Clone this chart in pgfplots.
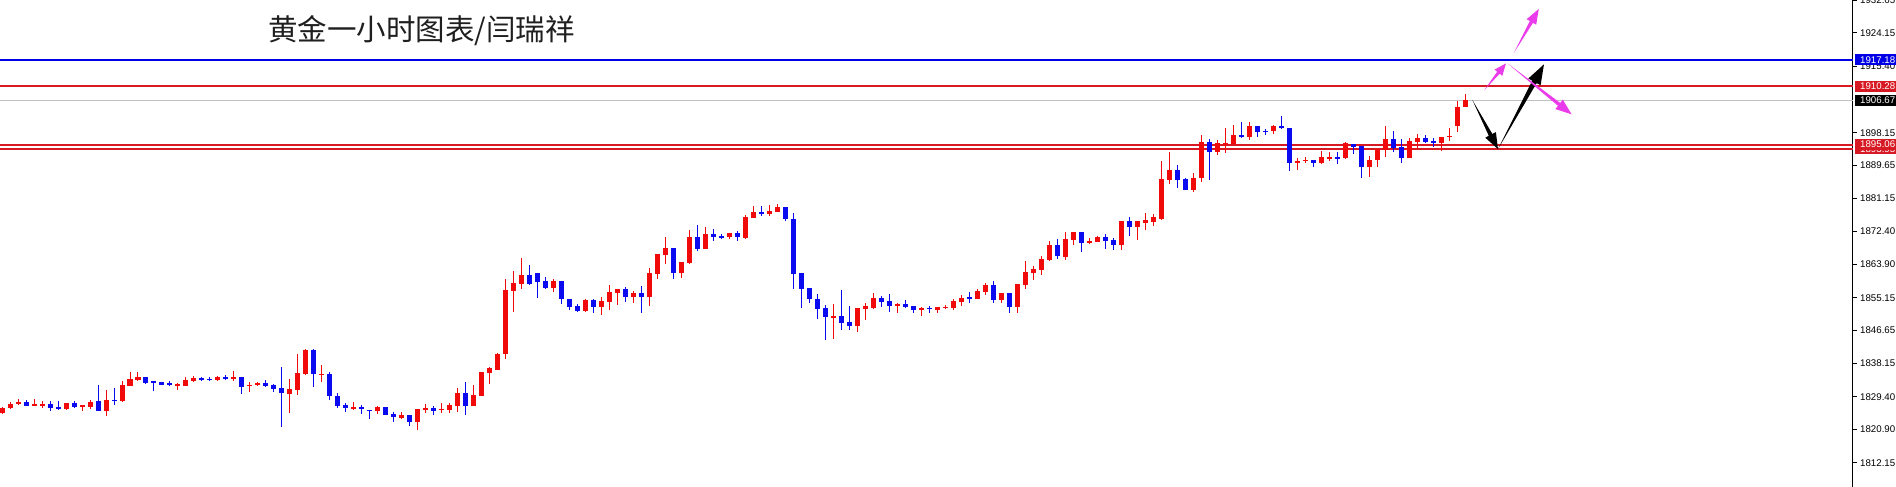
\documentclass[border=0pt]{standalone}
\usepackage{fontspec}
\setmainfont{Liberation Sans}
\newfontfamily\cjk{Noto Sans CJK SC}
\usepackage{pgfplots}
\usepackage{pgfplotstable}
\pgfplotsset{compat=1.18}
\usetikzlibrary{calc}
\definecolor{cred}{RGB}{240,10,10}
\definecolor{cblue}{RGB}{10,10,240}
\definecolor{lred}{RGB}{215,25,35}
\definecolor{lblue}{RGB}{0,0,230}
\definecolor{lgray}{RGB}{192,192,192}
\definecolor{cmag}{RGB}{235,60,235}

\pgfplotstableread{
i o h l c
0 1825.3 1826.8 1824.9 1826.6
1 1826.5 1828.1 1826.2 1827.5
2 1827.4 1828.7 1827.2 1828.1
3 1828.0 1828.5 1826.9 1827.1
4 1827.2 1828.9 1827.1 1827.4
5 1827.3 1828.2 1826.4 1827.4
6 1827.5 1828.2 1825.6 1826.6
7 1826.7 1828.2 1826.0 1826.2
8 1826.2 1827.8 1826.0 1827.7
9 1827.8 1828.2 1826.6 1826.8
10 1826.9 1827.1 1825.6 1827.1
11 1826.8 1828.5 1826.1 1828.0
12 1828.3 1832.5 1825.8 1825.8
13 1825.8 1831.2 1824.5 1828.6
14 1828.6 1831.6 1827.2 1828.4
15 1828.3 1833.5 1828.1 1832.5
16 1832.3 1835.8 1832.3 1834.0
17 1833.8 1835.8 1833.4 1834.6
18 1834.5 1834.5 1832.8 1833.0
19 1833.3 1833.3 1831.0 1833.2
20 1833.2 1833.3 1832.4 1832.5
21 1833.1 1833.4 1832.3 1832.4
22 1832.5 1832.9 1831.2 1832.6
23 1832.3 1834.5 1832.1 1833.8
24 1833.5 1834.7 1833.2 1834.3
25 1834.3 1834.5 1833.5 1833.8
26 1834.0 1834.5 1833.6 1833.8
27 1833.8 1834.7 1833.4 1834.6
28 1834.6 1835.2 1833.8 1834.0
29 1834.0 1836.0 1833.6 1834.6
30 1834.5 1834.5 1830.2 1832.0
31 1832.3 1833.3 1830.7 1832.6
32 1832.4 1833.3 1832.1 1833.1
33 1833.1 1833.8 1832.0 1832.3
34 1832.5 1832.8 1830.6 1831.5
35 1831.6 1837.2 1821.6 1830.3
36 1830.2 1834.0 1825.3 1831.3
37 1831.2 1840.5 1829.9 1835.5
38 1835.3 1841.8 1835.2 1841.6
39 1841.6 1841.8 1832.0 1835.2
40 1835.2 1837.7 1833.2 1835.3
41 1835.3 1835.8 1828.6 1829.7
42 1829.5 1830.3 1826.6 1827.1
43 1827.2 1827.7 1825.5 1826.6
44 1826.2 1828.0 1826.0 1826.7
45 1826.8 1827.2 1824.8 1826.1
46 1826.0 1826.0 1823.7 1825.7
47 1825.6 1826.9 1824.8 1826.7
48 1826.7 1826.7 1824.7 1824.7
49 1824.9 1825.3 1822.9 1824.0
50 1824.0 1825.4 1823.7 1824.7
51 1824.6 1824.6 1821.9 1822.9
52 1822.9 1826.2 1820.7 1826.2
53 1826.0 1827.4 1825.1 1826.6
54 1826.6 1827.1 1824.7 1825.8
55 1825.9 1827.7 1825.1 1826.3
56 1826.0 1827.7 1825.1 1827.2
57 1827.1 1831.6 1825.5 1830.4
58 1830.4 1833.2 1824.7 1827.1
59 1827.1 1832.5 1827.1 1829.9
60 1829.7 1835.8 1829.7 1835.8
61 1835.7 1837.2 1832.6 1837.0
62 1836.5 1840.7 1836.5 1840.5
63 1840.45 1860.1 1839.2 1857.2
64 1857.0 1862.2 1851.6 1859.0
65 1858.9 1865.5 1857.4 1861.1
66 1861.1 1863.7 1858.6 1858.8
67 1861.6 1861.6 1855.2 1859.4
68 1859.6 1860.5 1857.5 1857.7
69 1857.7 1860.2 1856.8 1859.6
70 1859.6 1859.6 1853.6 1854.8
71 1854.9 1854.9 1852.1 1852.9
72 1853.1 1853.6 1851.4 1851.8
73 1851.7 1854.9 1851.4 1854.6
74 1854.7 1854.9 1851.3 1852.9
75 1852.9 1855.4 1850.8 1854.3
76 1854.1 1858.5 1852.0 1856.7
77 1856.4 1857.5 1853.4 1857.5
78 1857.5 1857.9 1854.2 1855.5
79 1855.5 1856.9 1853.9 1856.5
80 1856.4 1858.3 1851.3 1855.5
81 1855.5 1862.9 1853.1 1861.6
82 1861.4 1866.6 1860.0 1866.6
83 1866.4 1871.0 1864.1 1868.1
84 1868.1 1868.1 1860.2 1861.7
85 1861.7 1864.5 1860.4 1864.5
86 1864.3 1872.8 1863.9 1871.0
87 1871.0 1874.2 1867.4 1867.9
88 1867.9 1873.5 1867.9 1871.8
89 1871.9 1873.1 1869.9 1871.1
90 1871.3 1871.9 1870.5 1870.9
91 1870.9 1872.0 1870.6 1872.0
92 1872.1 1872.5 1870.0 1870.9
93 1870.7 1876.7 1870.5 1876.2
94 1876.0 1879.1 1876.0 1877.6
95 1877.5 1879.1 1876.6 1877.0
96 1877.0 1879.3 1876.6 1877.8
97 1877.6 1879.7 1877.6 1878.8
98 1878.8 1878.8 1875.1 1875.6
99 1875.7 1877.2 1857.4 1861.5
100 1861.6 1861.6 1852.4 1857.6
101 1857.7 1857.7 1853.9 1854.8
102 1854.9 1856.2 1849.7 1852.3
103 1852.5 1853.2 1844.3 1850.1
104 1850.1 1853.6 1844.5 1850.4
105 1850.4 1857.2 1846.8 1848.7
106 1848.9 1853.0 1846.8 1847.7
107 1847.7 1852.5 1846.4 1852.5
108 1852.3 1853.8 1849.5 1853.1
109 1852.5 1856.3 1852.3 1855.1
110 1855.1 1855.6 1852.7 1854.2
111 1854.3 1856.2 1851.6 1853.0
112 1853.1 1853.9 1851.3 1853.6
113 1853.6 1854.6 1852.5 1852.8
114 1853.0 1853.0 1851.3 1851.9
115 1851.9 1852.9 1850.3 1852.6
116 1852.6 1853.1 1851.3 1852.2
117 1852.1 1852.9 1851.3 1852.8
118 1852.6 1853.2 1852.3 1852.9
119 1852.5 1854.9 1852.1 1854.4
120 1854.2 1855.9 1853.1 1855.2
121 1855.3 1856.7 1853.9 1855.0
122 1854.9 1857.4 1854.9 1857.0
123 1856.8 1859.0 1856.0 1858.6
124 1858.5 1859.6 1853.7 1854.6
125 1854.6 1856.3 1853.9 1856.3
126 1856.3 1856.3 1851.3 1852.8
127 1852.8 1858.9 1851.3 1858.8
128 1858.6 1864.8 1857.6 1861.9
129 1861.7 1863.5 1859.9 1862.8
130 1862.4 1866.0 1861.2 1865.3
131 1864.9 1870.0 1864.8 1868.9
132 1868.9 1870.5 1865.3 1866.1
133 1865.9 1872.3 1865.0 1870.5
134 1870.2 1872.4 1868.8 1872.4
135 1872.4 1872.4 1867.2 1869.4
136 1869.4 1870.7 1869.2 1870.1
137 1869.8 1871.4 1869.7 1871.0
138 1871.0 1871.8 1867.9 1870.0
139 1870.2 1870.7 1867.6 1868.8
140 1868.8 1875.2 1867.7 1875.2
141 1875.2 1876.2 1871.3 1873.7
142 1873.7 1875.2 1870.3 1875.2
143 1874.7 1877.3 1872.7 1875.3
144 1875.0 1876.9 1873.8 1876.3
145 1875.7 1890.8 1875.4 1886.1
146 1885.9 1893.1 1884.7 1888.5
147 1888.5 1889.8 1883.9 1885.9
148 1886.1 1886.3 1883.3 1883.3
149 1883.3 1887.6 1882.6 1886.5
150 1886.5 1897.6 1885.4 1895.8
151 1895.8 1896.5 1885.9 1893.2
152 1893.2 1896.3 1892.3 1895.4
153 1895.2 1899.3 1893.0 1895.4
154 1895.2 1900.2 1895.2 1897.6
155 1897.6 1900.9 1896.9 1897.0
156 1897.0 1900.9 1896.4 1899.9
157 1899.9 1899.9 1897.1 1898.4
158 1898.7 1899.1 1897.6 1898.3
159 1898.7 1900.2 1897.9 1899.9
160 1899.9 1902.5 1899.1 1899.3
161 1899.5 1899.5 1888.3 1890.2
162 1890.2 1891.5 1888.5 1890.9
163 1890.8 1891.9 1890.4 1891.1
164 1891.1 1891.1 1889.3 1890.2
165 1890.2 1893.4 1889.9 1891.9
166 1891.5 1893.1 1890.9 1891.9
167 1891.9 1893.1 1890.0 1891.5
168 1891.5 1895.8 1891.3 1895.4
169 1895.1 1895.1 1892.5 1894.5
170 1894.8 1894.8 1886.5 1889.3
171 1889.3 1892.1 1886.5 1891.1
172 1891.0 1893.8 1889.1 1893.8
173 1893.7 1899.9 1891.9 1896.4
174 1896.4 1898.6 1893.2 1894.1
175 1894.4 1896.4 1890.2 1891.7
176 1891.5 1896.7 1891.5 1896.1
177 1895.8 1897.8 1894.3 1896.7
178 1896.7 1897.7 1895.6 1895.8
179 1896.0 1896.7 1894.5 1895.6
180 1895.4 1897.0 1893.5 1897.0
181 1897.0 1899.5 1896.1 1897.4
182 1899.9 1906.3 1898.4 1904.8
183 1904.8 1908.2 1904.8 1906.67
}\candles

% fat arrow: start, tip, colour, head length, head half width, shaft half width
\newcommand{\fatarrow}[6]{%
  \fill[#3] (#1) -- ($(#2)!#4!(#1)!#6!90:(#2)$) -- ($(#2)!#4!(#1)!#5!90:(#2)$) -- (#2)
   -- ($(#2)!#4!(#1)!#5!-90:(#2)$) -- ($(#2)!#4!(#1)!#6!-90:(#2)$) -- cycle;}
\newcommand{\pricebox}[3]{%
  \fill[#2] ([xshift=2pt,yshift=-5.5pt]#1) rectangle ([xshift=60pt,yshift=5.5pt]#1);
  \node[anchor=west, inner sep=0pt, text=white, font=\fontsize{9.7}{10}\selectfont] at ([xshift=7pt]#1) {#3};}

\pgfplotsset{
  candle/.style n args={3}{draw=none, fill=none, mark=none, forget plot,
    restrict expr to domain={\thisrow{c}-\thisrow{o}}{#2},
    error bars/.cd, y dir=both, y explicit, error mark=none,
    error bar style={draw=#1, line width=#3}},
}

\begin{document}
\begin{tikzpicture}
\begin{axis}[
  scale only axis, width=1853pt, height=487pt,
  xmin=-0.25, xmax=231.375, ymin=1805.90, ymax=1932.72,
  axis x line=none, axis y line*=right,
  y axis line style={-, black, line width=1pt},
  ytick={1812.15,1820.90,1829.40,1838.15,1846.65,1855.15,1863.90,1872.40,1881.15,1889.65,1898.15,1915.40,1924.15,1932.65},
  yticklabels={1812.15,1820.90,1829.40,1838.15,1846.65,1855.15,1863.90,1872.40,1881.15,1889.65,1898.15,1915.40,1924.15,1932.65},
  /pgf/number format/assume math mode=true,
  tick align=outside, major tick length=4pt,
  ytick style={black, line width=1pt},
  yticklabel style={font=\fontsize{9.7}{10}\selectfont, anchor=west, inner sep=0pt, xshift=3pt},
  clip=true,
]
\addplot[lgray, line width=1pt] coordinates {(-1,1906.67) (232,1906.67)};
\addplot[lred, line width=2pt] coordinates {(-1,1910.28) (232,1910.28)};
\addplot[lred, line width=2pt] coordinates {(-1,1895.06) (232,1895.06)};
\addplot[lred, line width=2pt] coordinates {(-1,1893.95) (232,1893.95)};
\addplot[lblue, line width=2pt] coordinates {(-1,1917.18) (232,1917.18)};

% red (rising) candles: wicks then bodies
\addplot[candle={cred}{0:1000}{1pt}]
  table[x=i, y expr={(\thisrow{h}+\thisrow{l})/2}, y error expr={max((\thisrow{h}-\thisrow{l})/2,0.13)}] {\candles};
\addplot[candle={cred}{0:1000}{5pt}]
  table[x=i, y expr={(\thisrow{o}+\thisrow{c})/2}, y error expr={max(abs(\thisrow{c}-\thisrow{o})/2,0.14)}] {\candles};
% blue (falling) candles
\addplot[candle={cblue}{-1000:-0.001}{1pt}]
  table[x=i, y expr={(\thisrow{h}+\thisrow{l})/2}, y error expr={max((\thisrow{h}-\thisrow{l})/2,0.13)}] {\candles};
\addplot[candle={cblue}{-1000:-0.001}{5pt}]
  table[x=i, y expr={(\thisrow{o}+\thisrow{c})/2}, y error expr={max(abs(\thisrow{c}-\thisrow{o})/2,0.14)}] {\candles};

\coordinate (Bs) at (axis cs:183.8,1906.67);
\coordinate (Bt) at (axis cs:187.0,1893.9);
\coordinate (Ct) at (axis cs:192.75,1915.97);
\coordinate (M1s) at (axis cs:185.3,1909.28);
\coordinate (M1t) at (axis cs:188.0,1916.2);
\coordinate (M2s) at (axis cs:189.0,1919.0);
\coordinate (M2t) at (axis cs:192.1,1930.4);
\coordinate (M3s) at (axis cs:188.2,1916.2);
\coordinate (M3t) at (axis cs:196.2,1902.95);
\coordinate (Lb) at (axis cs:231.375,1917.18);
\coordinate (Lr1) at (axis cs:231.375,1910.28);
\coordinate (Lk) at (axis cs:231.375,1906.67);
\coordinate (Lr2) at (axis cs:231.375,1895.06);
\coordinate (Lr3) at (axis cs:231.375,1893.95);
\end{axis}

\fatarrow{Bs}{Bt}{black}{16pt}{6pt}{2pt}
\fatarrow{Bt}{Ct}{black}{20pt}{7pt}{2.5pt}
\fatarrow{M1s}{M1t}{cmag}{12pt}{5pt}{1.6pt}
\fatarrow{M2s}{M2t}{cmag}{15pt}{5.5pt}{1.8pt}
\fatarrow{M3s}{M3t}{cmag}{16pt}{6pt}{1.8pt}

\pricebox{Lr3}{lred}{1893.95}
\pricebox{Lr2}{lred}{1895.06}
\pricebox{Lk}{black}{1906.67}
\pricebox{Lr1}{lred}{1910.28}
\pricebox{Lb}{lblue}{1917.18}

\node[anchor=west, inner sep=0pt, font=\cjk\fontsize{29.5}{29.5}\selectfont, text=black!88] at (268pt,456pt) {黄金一小时图表/闫瑞祥};

\pgfresetboundingbox
\path[use as bounding box] (0,0) rectangle (1896pt,487pt);
\end{tikzpicture}
\end{document}
